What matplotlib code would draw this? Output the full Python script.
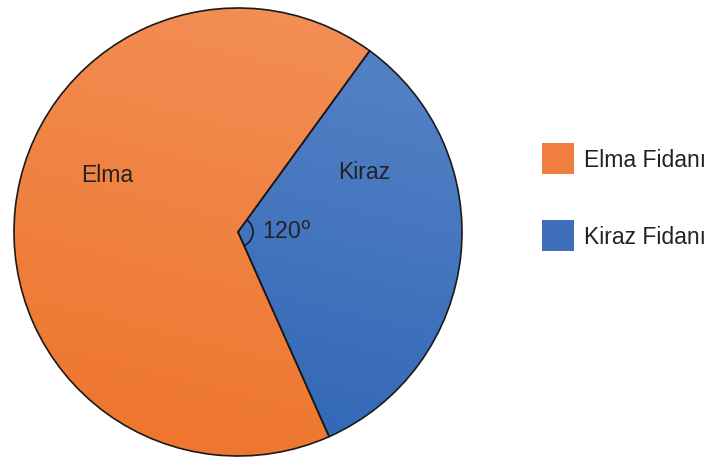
import numpy as np
import matplotlib
matplotlib.use('Agg')
import matplotlib.pyplot as plt
from matplotlib.patches import Rectangle, Arc
from matplotlib.colors import LinearSegmentedColormap

plt.rcParams['font.family'] = ['Liberation Sans', 'DejaVu Sans']

# data
labels = ['Elma', 'Kiraz']
legend_labels = ['Elma Fidanı', 'Kiraz Fidanı']
angles = [240, 120]
angle_text = '120$^{\\mathrm{o}}$'
colors = ['#F07F3F', '#3F6EBA']
grad_colors = [('#F39058', '#EE742A'), ('#5A85C8', '#2B63B3')]

W, H = 715, 457
cx, cy, r = 238, H - 232, 224
fs = 16.5

fig = plt.figure(figsize=(W / 100, H / 100), dpi=100)
ax = fig.add_axes([0, 0, 1, 1])

wedges, _ = ax.pie(angles, colors=colors, startangle=54, center=(cx, cy), radius=r,
                   wedgeprops=dict(edgecolor='#1a1a1a', linewidth=1.2), frame=True)

# soft gradient fill like the original
for w, (c1, c2) in zip(wedges, grad_colors):
    cmap = LinearSegmentedColormap.from_list('g', [c2, c1])
    yy, xx = np.mgrid[0:1:200j, 0:1:200j]
    img = ax.imshow(yy * 0.8 + xx * 0.2, cmap=cmap, origin='lower',
                    extent=(cx - r, cx + r, cy - r, cy + r), zorder=w.get_zorder() - 0.1,
                    interpolation='bilinear')
    img.set_clip_path(w)
    w.set_facecolor('none')

ax.text(107, H - 182, labels[0], fontsize=fs, ha='center', va='baseline', color='#222222')
ax.text(364, H - 179, labels[1], fontsize=fs, ha='center', va='baseline', color='#222222')

ax.add_patch(Arc((cx, cy), 30, 30, theta1=-66, theta2=54, color='#1a1a1a', lw=1.2, zorder=5))
ax.text(262, H - 239, angle_text, fontsize=fs, ha='left', va='baseline', color='#222222')

# legend, drawn by hand to match the original box sizes
for i, (lab, c) in enumerate(zip(legend_labels, colors)):
    top = 143 + i * 77
    ax.add_patch(Rectangle((542, H - top - 31), 32, 31, facecolor=c, edgecolor='none'))
    ax.text(584, H - top - 24, lab, fontsize=fs, ha='left', va='baseline', color='#222222')

ax.set_xlim(0, W)
ax.set_ylim(0, H)
ax.set_aspect('equal')
ax.axis('off')

fig.savefig('out.png', dpi=100)
